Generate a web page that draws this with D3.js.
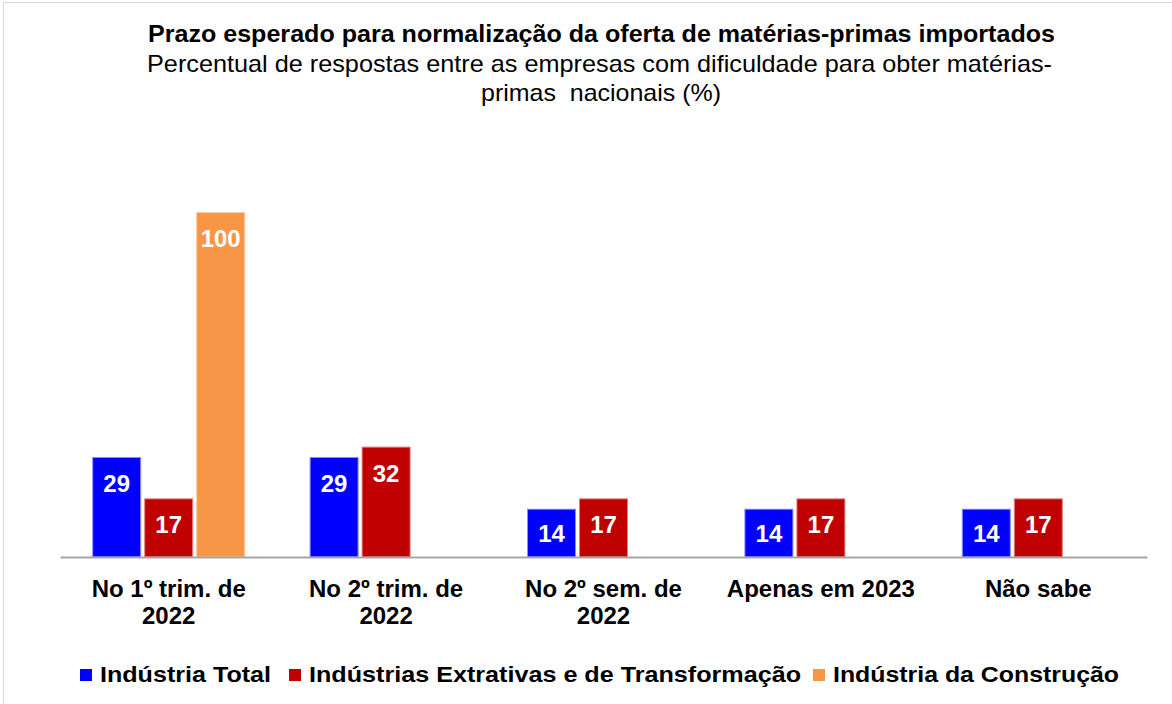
<!DOCTYPE html>
<html>
<head>
<meta charset="utf-8">
<script src="https://cdn.jsdelivr.net/npm/d3@7"></script>
<style>
  html, body { margin: 0; padding: 0; background: #fff; }
  svg { display: block; }
  text { font-family: "Liberation Sans", Arial, sans-serif; white-space: pre; }
</style>
</head>
<body>
<svg id="chart" width="1172" height="704"></svg>
<script>
const categories = [["No 1º trim. de", "2022"], ["No 2º trim. de", "2022"], ["No 2º sem. de", "2022"], ["Apenas em 2023"], ["Não sabe"]];
const seriesNames = ["Indústria Total", "Indústrias Extrativas e de Transformação", "Indústria da Construção"];
const industriaTotal = [29, 29, 14, 14, 14];
const extrativasTransformacao = [17, 32, 17, 17, 17];
const construcao = [100, null, null, null, null];
const colors = ["#0000ff", "#c00000", "#f79646"];
const strokes = ["#8c8cff", "#e08080", "#fbc8a0"];
const titleText = "Prazo esperado para normalização da oferta de matérias-primas importados";
const subtitleLines = ["Percentual de respostas entre as empresas com dificuldade para obter matérias-", "primas  nacionais (%)"];

const seriesValues = [industriaTotal, extrativasTransformacao, construcao];
const svg = d3.select("#chart");

// outer border
svg.append("rect").attr("x", 3.5).attr("y", 2.5).attr("width", 1190).attr("height", 720)
  .attr("fill", "none").attr("stroke", "#d9d9d9").attr("stroke-width", 1);

// titles
svg.append("text").attr("x", 601.5).attr("y", 42).attr("text-anchor", "middle")
  .attr("font-size", 23).attr("font-weight", "bold").attr("fill", "#000")
  .attr("textLength", 907).attr("lengthAdjust", "spacingAndGlyphs").text(titleText);
svg.append("text").attr("x", 599.5).attr("y", 72).attr("text-anchor", "middle")
  .attr("font-size", 24).attr("fill", "#000")
  .attr("textLength", 905).attr("lengthAdjust", "spacingAndGlyphs").text(subtitleLines[0]);
svg.append("text").attr("x", 601).attr("y", 101).attr("text-anchor", "middle")
  .attr("font-size", 24).attr("fill", "#000")
  .attr("textLength", 240).attr("lengthAdjust", "spacingAndGlyphs").text(subtitleLines[1]);

const x0 = d3.scaleBand().domain(d3.range(categories.length)).range([60, 1147]).padding(0);
const groupW = 153;
const x1 = d3.scaleBand().domain(d3.range(seriesNames.length)).range([0, groupW]).paddingInner(3 / 52).paddingOuter(0);
const y = d3.scaleLinear().domain([0, 100]).range([557, 212]);

const bars = [];
categories.forEach((c, i) => {
  seriesValues.forEach((vals, s) => {
    if (vals[i] != null) bars.push({ cat: i, s, v: vals[i] });
  });
});

const gx = d => x0(d.cat) + (x0.bandwidth() - groupW) / 2 + x1(d.s);

svg.append("g").selectAll("rect").data(bars).join("rect")
  .attr("x", d => gx(d) + 0.5)
  .attr("y", d => y(d.v) + 0.5)
  .attr("width", x1.bandwidth() - 1)
  .attr("height", d => y(0) - y(d.v) - 0.5)
  .attr("fill", d => colors[d.s])
  .attr("stroke", d => strokes[d.s]).attr("stroke-width", 1);

// axis baseline
const xAxis = d3.axisBottom(x0).tickSize(0).tickFormat("");
const axG = svg.append("g").attr("transform", `translate(0,${y(0)})`).call(xAxis);
axG.select(".domain").attr("stroke", "#a6a6a6").attr("stroke-width", 2);

// category labels
const catG = svg.append("g");
categories.forEach((lines, i) => {
  lines.forEach((ln, j) => {
    catG.append("text").attr("x", x0(i) + x0.bandwidth() / 2).attr("y", 597 + j * 27)
      .attr("text-anchor", "middle").attr("font-size", 24).attr("font-weight", "bold")
      .attr("fill", "#000").text(ln);
  });
});

// data labels
svg.append("g").selectAll("text").data(bars).join("text")
  .attr("x", d => gx(d) + x1.bandwidth() / 2)
  .attr("y", d => {
    const top = y(d.v), base = y(0);
    return Math.min(top + 26, (top + base) / 2) + 9;
  })
  .attr("text-anchor", "middle").attr("font-size", 24).attr("font-weight", "bold")
  .attr("fill", "#fff").text(d => d.v);

// legend
const legendX = [80, 289, 813];
const legendW = [171, 492, 286];
seriesNames.forEach((name, s) => {
  const g = svg.append("g").attr("transform", `translate(${legendX[s]},0)`);
  g.append("rect").attr("x", 0).attr("y", 669).attr("width", 12).attr("height", 12).attr("fill", colors[s]);
  g.append("text").attr("x", 20).attr("y", 682).attr("font-size", 22).attr("font-weight", "bold")
    .attr("fill", "#000").attr("textLength", legendW[s]).attr("lengthAdjust", "spacingAndGlyphs").text(name);
});
</script>
</body>
</html>
